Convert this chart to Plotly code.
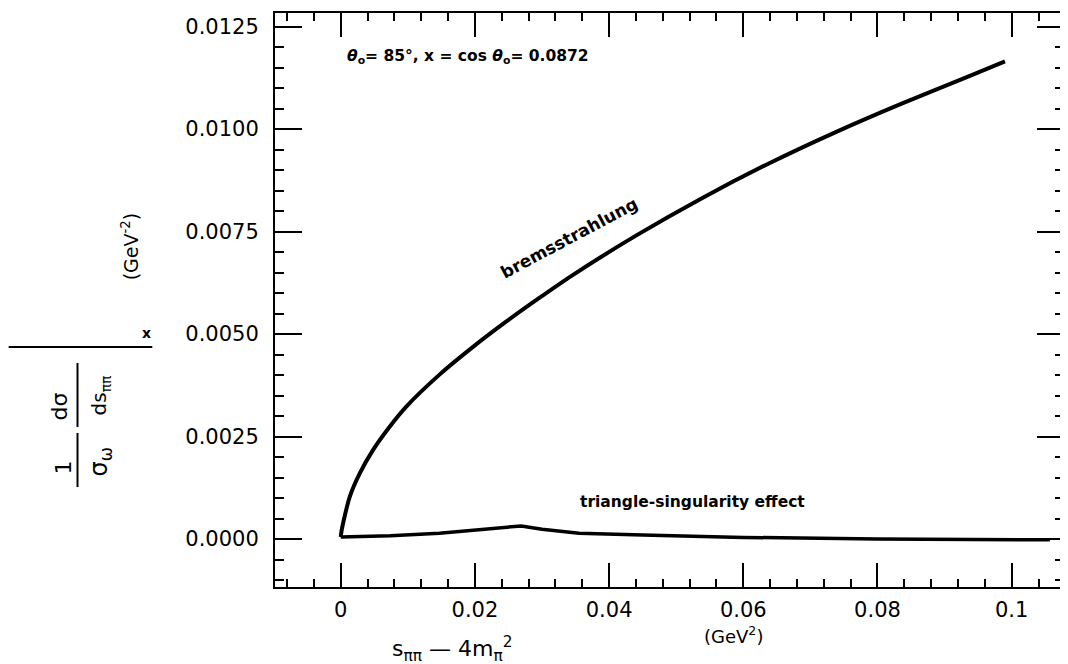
import plotly.graph_objs as go

# Curves
brems_x = [0.0, 0.0001, 0.00034, 0.00134, 0.00283, 0.0048, 0.00729, 0.00977, 0.01472, 0.01967,
           0.02464, 0.02959, 0.0344, 0.0440, 0.0539, 0.0638, 0.0737, 0.0836, 0.0935, 0.0990]
brems_y = [0.00005, 0.00018, 0.00038, 0.00103, 0.0016, 0.00217, 0.00274, 0.00323, 0.00401, 0.00468,
           0.00530, 0.00588, 0.00642, 0.00740, 0.00832, 0.00916, 0.00992, 0.01062, 0.01128, 0.01165]

tri_x = [0.0, 0.0074, 0.0147, 0.0208, 0.0269, 0.0300, 0.0355, 0.045, 0.06, 0.08, 0.1, 0.1057]
tri_y = [0.00005, 0.00008, 0.00014, 0.00022, 0.00032, 0.00024, 0.00014, 0.00010, 0.00004, 0.0,
         -0.00002, -0.00002]

x_ticks = [0, 0.02, 0.04, 0.06, 0.08, 0.1]
x_labels = ['0', '0.02', '0.04', '0.06', '0.08', '0.1']
y_ticks = [0.0, 0.0025, 0.0050, 0.0075, 0.0100, 0.0125]
y_labels = ['0.0000', '0.0025', '0.0050', '0.0075', '0.0100', '0.0125']

# page body has an 8px margin, so the figure is shifted by that much
W, H = 1060, 656
L, R, T, B = 267, 2, 5, 77
FONT = 'DejaVu Sans'


# screen pixel -> paper coords (plot area sits at 275..1066 x 13..587 on screen)
def px(x):
    return (x - 275) / 791


def py(y):
    return (587 - y) / 574


trace1 = go.Scatter(x=brems_x, y=brems_y, mode='lines',
                    line={'color': 'black', 'width': 4, 'shape': 'spline', 'smoothing': 0.8})
trace2 = go.Scatter(x=tri_x, y=tri_y, mode='lines',
                    line={'color': 'black', 'width': 3.5})

axis_common = dict(showgrid=False, zeroline=False, showline=True, linecolor='black',
                   linewidth=2, mirror='ticks', ticks='inside', tickcolor='black',
                   tickwidth=1.5, tickfont={'family': FONT, 'size': 21, 'color': 'black'})

layout = go.Layout(
    width=W, height=H,
    margin={'l': L, 'r': R, 't': T, 'b': B},
    paper_bgcolor='white', plot_bgcolor='white',
    showlegend=False,
    xaxis=dict(axis_common, range=[-0.0098, 0.1078], tickvals=x_ticks, ticktext=x_labels,
               ticklen=24, ticklabelstandoff=3,
               minor={'dtick': 0.004, 'tick0': 0, 'ticks': 'inside', 'ticklen': 8,
                      'tickcolor': 'black', 'tickwidth': 1.5}),
    yaxis=dict(axis_common, range=[-0.00117, 0.01283], tickvals=y_ticks, ticktext=y_labels,
               ticklen=27, ticklabelstandoff=10,
               minor={'dtick': 0.0005, 'tick0': 0, 'ticks': 'inside', 'ticklen': 9,
                      'tickcolor': 'black', 'tickwidth': 1.5}),
)

fig = go.Figure(data=[trace1, trace2], layout=layout)

txt = {'family': FONT, 'color': 'black'}
C = dict(xanchor='center', yanchor='middle', showarrow=False)

# labels inside the frame
fig.add_annotation(x=0.0006, y=0.01176, xanchor='left', yanchor='middle', showarrow=False,
                   text='<b><i>θ</i><sub>o</sub>= 85°, x = cos <i>θ</i><sub>o</sub>= 0.0872</b>',
                   font=dict(txt, size=15.5))
fig.add_annotation(x=0.034, y=0.00734, textangle=-28, text='<b>bremsstrahlung</b>',
                   font=dict(txt, size=17), **C)
fig.add_annotation(x=0.0525, y=0.0009, text='<b>triangle-singularity effect</b>',
                   font=dict(txt, size=15.5), **C)

# x axis title
fig.add_annotation(xref='paper', yref='paper', x=px(453), y=py(649),
                   text='s<sub>ππ</sub> — 4m<sub>π</sub><sup>2</sup>', font=dict(txt, size=22), **C)
fig.add_annotation(xref='paper', yref='paper', x=px(735), y=py(635),
                   text='(GeV<sup>2</sup>)', font=dict(txt, size=18), **C)

# y axis title, built from pieces
ylab = [('1', 62, 468, 22), ('σ<sub>ω</sub>', 100, 462, 24), ('dσ', 58, 407, 22),
        ('ds<sub>ππ</sub>', 100, 395, 20), ('(GeV<sup>-2</sup>)', 130, 246, 19)]
for t, x, y, s in ylab:
    fig.add_annotation(xref='paper', yref='paper', x=px(x), y=py(y), textangle=-90,
                       text=t, font=dict(txt, size=s), **C)
fig.add_annotation(xref='paper', yref='paper', x=px(146), y=py(333),
                   text='<b>x</b>', font=dict(txt, size=14), **C)

for x0, y0, x1, y1 in [(77, 433, 77, 487), (77, 363, 77, 427), (8, 347, 152, 347)]:
    fig.add_shape(type='line', xref='paper', yref='paper',
                  x0=px(x0), y0=py(y0), x1=px(x1), y1=py(y1),
                  line={'color': 'black', 'width': 2})

fig.write_html('out.html')
